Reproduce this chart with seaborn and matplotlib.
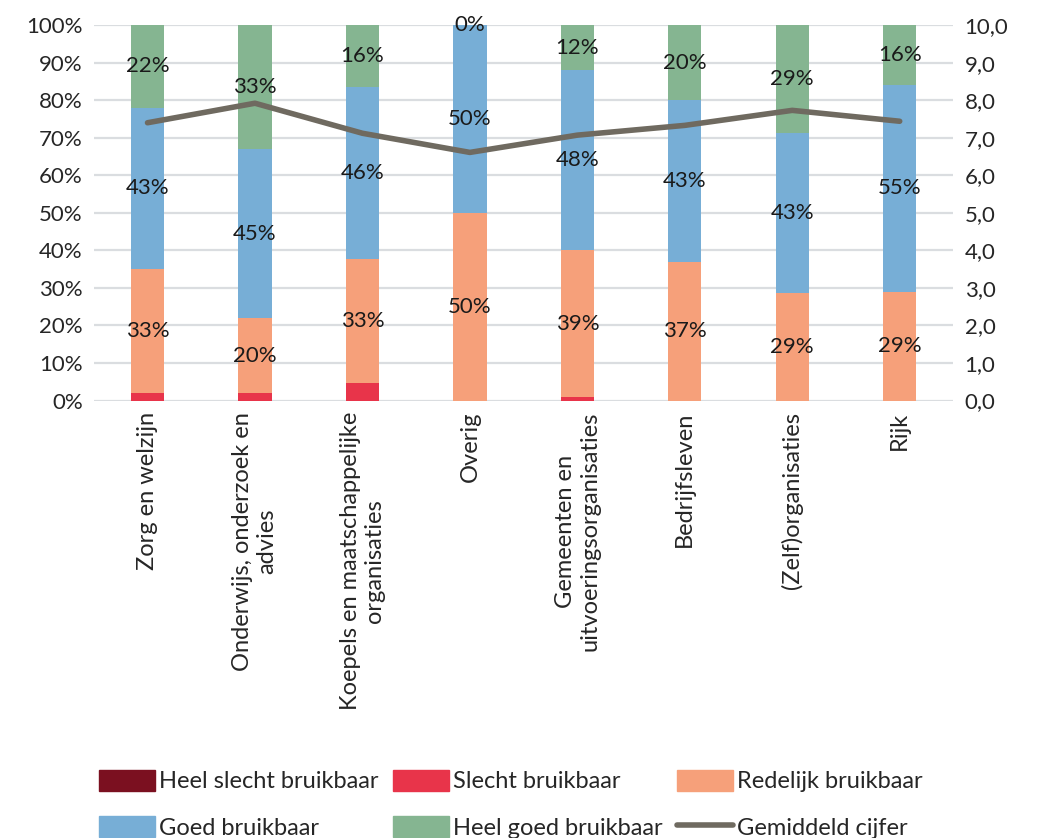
import numpy as np
import matplotlib
matplotlib.use("Agg")
import matplotlib.pyplot as plt
import seaborn as sns
from matplotlib.patches import Patch
from matplotlib.lines import Line2D

categories = [
    "Zorg en welzijn",
    "Onderwijs, onderzoek en\nadvies",
    "Koepels en maatschappelijke\norganisaties",
    "Overig",
    "Gemeenten en\nuitvoeringsorganisaties",
    "Bedrijfsleven",
    "(Zelf)organisaties",
    "Rijk",
]
heel_slecht = [0, 0, 0, 0, 0, 0, 0, 0]
slecht = [2, 2, 4.6, 0, 1, 0, 0, 0]
redelijk = [33, 20, 33, 50, 39, 37, 28.6, 29]
goed = [43, 45, 46, 50, 48, 43, 42.8, 55]
heel_goed = [22, 33, 16.4, 0, 12, 20, 28.6, 16]
gemiddeld = [7.4, 7.92, 7.12, 6.61, 7.07, 7.33, 7.73, 7.44]

layers = [
    ("Heel slecht bruikbaar", heel_slecht, "#7B1020", False),
    ("Slecht bruikbaar", slecht, "#E8344A", False),
    ("Redelijk bruikbaar", redelijk, "#F6A07A", True),
    ("Goed bruikbaar", goed, "#77AED6", True),
    ("Heel goed bruikbaar", heel_goed, "#85B591", True),
]
line_color = "#6F6A60"
fs = 16

sns.set_style("white")
plt.rcParams["font.family"] = ["Lato", "DejaVu Sans"]
plt.rcParams["font.size"] = fs

fig, ax = plt.subplots(figsize=(10.42, 8.38), dpi=100)
fig.subplots_adjust(left=0.09, right=0.915, top=0.97, bottom=0.522)

x = np.arange(len(categories))
bottom = np.zeros(len(categories))
for name, vals, col, show in layers:
    vals = np.array(vals, dtype=float)
    sns.barplot(x=x, y=vals, bottom=bottom, color=col, width=0.31,
                ax=ax, native_scale=True, saturation=1, linewidth=0,
                zorder=2)
    if show:
        for i, v in enumerate(vals):
            ax.text(i, bottom[i] + v / 2, f"{round(v):d}%", ha="center",
                    va="center", fontsize=fs, color="#1a1a1a", zorder=5)
    bottom += vals

ax.set_ylim(0, 100)
ax.set_xlim(-0.5, len(categories) - 0.5)
ax.set_yticks(np.arange(0, 101, 10))
ax.set_yticklabels([f"{t}%" for t in range(0, 101, 10)])
ax.set_xticks(x)
ax.set_xticklabels(categories, rotation=90, va="top", ha="center",
                   multialignment="center", fontsize=fs + 1)
ax.yaxis.grid(True, color="#DADDE0", linewidth=1.6, zorder=0)
ax.set_axisbelow(True)
ax.tick_params(length=0, pad=8)
ax.set_xlabel("")
ax.set_ylabel("")
for s in ax.spines.values():
    s.set_visible(False)

ax2 = ax.twinx()
sns.lineplot(x=x, y=gemiddeld, color=line_color, linewidth=4, ax=ax2,
             zorder=4)
ax2.set_ylim(0, 10)
ax2.set_yticks(np.arange(0, 11, 1))
ax2.set_yticklabels([f"{t},0" for t in range(0, 11)])
ax2.tick_params(length=0, pad=8)
for s in ax2.spines.values():
    s.set_visible(False)

handles = [
    Patch(color=layers[0][2], label=layers[0][0]),
    Patch(color=layers[3][2], label=layers[3][0]),
    Patch(color=layers[1][2], label=layers[1][0]),
    Patch(color=layers[4][2], label=layers[4][0]),
    Patch(color=layers[2][2], label=layers[2][0]),
    Line2D([0], [0], color=line_color, linewidth=4, label="Gemiddeld cijfer"),
]
fig.legend(handles=handles, loc="lower center", ncol=3, frameon=False,
           bbox_to_anchor=(0.49, -0.026), handlelength=2.4, handleheight=1.0,
           handletextpad=0.15, columnspacing=0.6, labelspacing=1.0,
           fontsize=fs + 1)

fig.savefig("out.png", dpi=100)
